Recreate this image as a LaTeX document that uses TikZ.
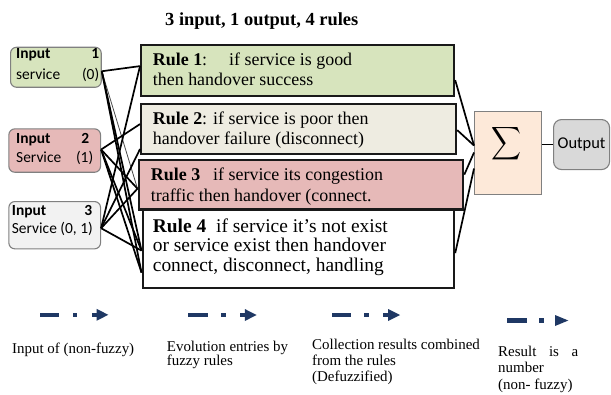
\documentclass[tikz,border=0pt]{standalone}
\usepackage{fontspec}
\setmainfont{Liberation Serif}
\newfontfamily\calibri{Carlito}
\usepackage{graphicx}
\usetikzlibrary{calc}

\definecolor{leafgreen}{HTML}{D7E4BD}
\definecolor{parchment}{HTML}{EEECE1}
\definecolor{rosepink}{HTML}{E6B9B8}
\definecolor{palegray}{HTML}{F2F2F2}
\definecolor{peach}{HTML}{FDE9D9}
\definecolor{midgray}{HTML}{D9D9D9}
\definecolor{navy}{HTML}{1F3864}

\tikzset{
  inbox/.style={draw=black!50, line width=1.1bp, rounded corners=6bp, inner sep=0, anchor=north west},
  rulebox/.style={draw=black!90, line width=2.2bp, inner sep=0, anchor=north west},
  txt/.style={anchor=base west, inner sep=0},
  wire/.style={line width=1.7bp, black},
  thinwire/.style={line width=0.8bp, black!70},
  legendfill/.style={fill=navy},
  legendmark/.pic={
    \fill[legendfill] (0,-2.2) rectangle (19.3,2.2);
    \fill[legendfill] (32.7,-2.3) rectangle (37.3,2.3);
    \fill[legendfill] (51.7,-2.2) rectangle (57,2.2);
    \fill[legendfill] (56.5,-6) -- (68.3,0) -- (56.5,6) -- cycle;
  },
  legendmarkshort/.pic={
    \fill[legendfill] (0,-2.2) rectangle (20,2.2);
    \fill[legendfill] (32.6,-2.3) rectangle (37.3,2.3);
    \fill[legendfill] (48.3,-5.5) -- (61.6,0) -- (48.3,5.5) -- cycle;
  }
}

\begin{document}
\begin{tikzpicture}[x=1bp,y=-1bp]
\useasboundingbox (0,0) rectangle (611,394);

% title
\node[txt, font=\fontsize{18.5}{22}\selectfont\bfseries] (title) at (165,25) {3 input, 1 output, 4 rules};

% input boxes
\node[inbox, fill=leafgreen, minimum width=90.7bp, minimum height=40bp] (in1) at (10,46.7) {};
\node[inbox, fill=rosepink, minimum width=91.7bp, minimum height=43.4bp] (in2) at (8.3,128.3) {};
\node[inbox, fill=palegray, minimum width=91.7bp, minimum height=47.3bp] (in3) at (8.3,201) {};

\node[txt] (in1t) at (16,58.3) {\parbox[t]{83bp}{\calibri\fontsize{15.5}{21}\selectfont
  \textbf{Input\hfill 1}\\service\hfill(0)}};
\node[txt] (in2t) at (16,143.3) {\parbox[t]{77bp}{\calibri\fontsize{15.5}{19.4}\selectfont
  \makebox[73bp][l]{\textbf{Input\hfill 2}}\\Service\hfill(1)}};
\node[txt] (in3t) at (11.7,215) {\parbox[t]{86.3bp}{\calibri\fontsize{15.5}{19}\selectfont
  \makebox[80.3bp][l]{\textbf{Input\hfill 3}}\\Service (0, 1)}};

% rule boxes
\node[rulebox, fill=leafgreen, minimum width=313bp, minimum height=51bp] (rule1) at (140,43.5) {};
\node[rulebox, fill=parchment, minimum width=315bp, minimum height=50bp] (rule2) at (140,103) {};
\node[rulebox, fill=white, minimum width=311.5bp, minimum height=79bp] (rule4) at (141.5,208) {};
\node[rulebox, fill=rosepink, line width=2.8bp, minimum width=324bp, minimum height=49.5bp] (rule3) at (137.5,158.5) {};

\node[txt] (rule1t) at (152.7,65.7) {\parbox[t]{290bp}{\fontsize{18}{20.3}\selectfont
  \makebox[76.3bp][l]{\textbf{Rule 1}:}if service is good\\then handover success}};
\node[txt] (rule2t) at (152.7,124.3) {\parbox[t]{290bp}{\fontsize{18}{20.7}\selectfont
  \textbf{Rule 2}: if service is poor then\\handover failure (disconnect)}};
\node[txt] (rule3t) at (150.7,180) {\parbox[t]{300bp}{\fontsize{18}{21.7}\selectfont
  \makebox[62.3bp][l]{\textbf{Rule 3}}if service its congestion\\traffic then handover (connect.}};
\node[txt] (rule4t) at (152.7,232) {\parbox[t]{290bp}{\fontsize{19.5}{20}\selectfont
  \makebox[63.3bp][l]{\textbf{Rule 4}}if service it's not exist\\or service exist then handover\\connect, disconnect, handling}};

% summation and output
\node[draw=black!50, line width=1bp, fill=peach, inner sep=0, anchor=north west,
      minimum width=67bp, minimum height=83bp] (sigma) at (474,111) {};
\node[inner sep=0] (sigmasym) at (506,143.5) {\resizebox*{30bp}{37bp}{$\displaystyle\sum$}};
\node[draw=black!50, line width=1.1bp, fill=midgray, rounded corners=8bp, inner sep=0,
      anchor=north west, minimum width=56bp, minimum height=50bp,
      font=\calibri\fontsize{16.5}{18}\selectfont] (out) at (553,119) {Output};

% connection points (picture units, y grows downwards)
\coordinate (i1) at ($(in1.east)+(0,4)$);
\coordinate (i2) at ($(in2.east)+(0,-1)$);
\coordinate (i3) at ($(in3.east)+(0,3)$);
\coordinate (r1) at ($(rule1.west)+(0,-4)$);
\coordinate (r2) at ($(rule2.west)+(0,-5)$);
\coordinate (r2b) at ($(rule2.west)+(0,20)$);
\coordinate (r3) at ($(rule3.west)+(0,4)$);
\coordinate (r4a) at ($(rule4.west)+(0,2)$);
\coordinate (r4b) at ($(rule4.west)+(0,24)$);

% inputs to rules
\draw[wire] (i1) -- (r1);
\draw[thinwire] (i1) -- (r3);
\draw[wire] (i1) -- (r4a);
\draw[wire] (i1) -- (r4b);
\draw[wire] (i2) -- (r2);
\draw[wire] (i2) -- (r3);
\draw[wire] (i2) -- (r4a);
\draw[wire] (i2) -- (r4b);
\draw[wire] (i3) -- (r1);
\draw[wire] (i3) -- (r2b);
\draw[wire] (i3) -- (r3);
\draw[wire] (i3) -- (r4a);

% rules to summation
\draw[wire] ($(rule1.east)+(0,10)$) -- ($(sigma.west)+(0,-7.5)$);
\draw[wire] ($(rule2.east)+(0,1)$) -- ($(sigma.west)+(0,-7.5)$);
\draw[wire] ($(rule3.east)+(0,-10)$) -- ($(sigma.west)+(0,-0.5)$);
\draw[wire] ($(rule4.east)+(0,4.5)$) -- ($(sigma.west)+(0,15.5)$);
\draw[wire] (out.west) -- (out.west -| sigma.east);

% legend marks
\pic (lm1) at (40,314.8) {legendmark};
\pic (lm2) at (188.3,315) {legendmark};
\pic (lm3) at (331.7,315) {legendmark};
\pic (lm4) at (506.7,320.5) {legendmarkshort};

% captions
\node[txt] (cap1) at (12,353.3) {\fontsize{15}{15}\selectfont Input of (non-fuzzy)};
\node[txt] (cap2) at (166.7,351) {\parbox[t]{140bp}{\fontsize{15}{15}\selectfont
  Evolution entries by\\fuzzy rules}};
\node[txt] (cap3) at (312,349.3) {\parbox[t]{180bp}{\fontsize{15}{16.3}\selectfont
  Collection results combined\\from the rules\\(Defuzzified)}};
\node[txt] (cap4) at (498,356.7) {\parbox[t]{100bp}{\fontsize{15}{16.3}\selectfont
  \makebox[80bp][s]{Result\hfill is\hfill a}\\number\\(non- fuzzy)}};
\end{tikzpicture}
\end{document}
